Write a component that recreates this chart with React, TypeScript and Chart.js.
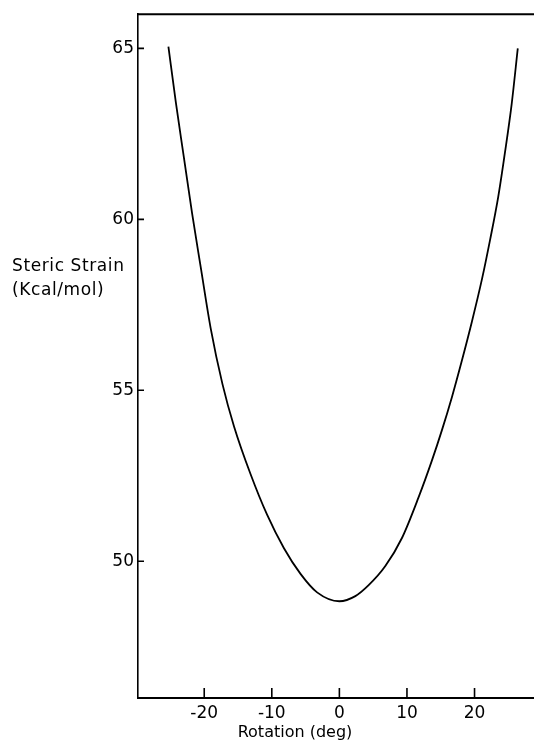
import React, { useEffect, useRef } from "react";
import { Chart, registerables } from "chart.js";

Chart.register(...registerables);

// Rotation angle (deg) and steric strain (kcal/mol)
const rotationDeg = [-25.3, -24.2, -23.0, -21.8, -20.5, -19.05, -17.3, -15.6, -13.15, -10.7, -8.2, -5.75, -3.3, 0, 2.36, 4.33, 6.8, 9.26, 11.7, 13.7, 15.2, 16.65, 18.1, 19.6, 21.1, 22.3, 23.5, 24.5, 25.5, 26.4];
const strainKcal = [65.05, 63.42, 61.8, 60.18, 58.58, 56.82, 55.18, 53.95, 52.55, 51.36, 50.38, 49.63, 49.09, 48.83, 48.98, 49.3, 49.86, 50.68, 51.86, 52.95, 53.85, 54.8, 55.85, 57.0, 58.25, 59.4, 60.65, 61.95, 63.38, 65.0];

const xTickValues = [-20, -10, 0, 10, 20];
const yTickValues = [50, 55, 60, 65];
const xRange = [-29.8, 28.8];
const yRange = [46, 66];

const xTitle = "Rotation (deg)";
const yTitleLines = ["Steric Strain", "(Kcal/mol)"];

const FONT = '"DejaVu Sans", "Liberation Sans", sans-serif';

const framePlugin = {
  id: "frameAndTitles",
  afterDraw(chart: any) {
    const { ctx, chartArea, scales } = chart;
    ctx.save();
    ctx.strokeStyle = "#000";
    ctx.lineCap = "butt";
    // top frame line
    ctx.lineWidth = 2;
    ctx.beginPath();
    ctx.moveTo(chartArea.left - 1, chartArea.top);
    ctx.lineTo(chartArea.right, chartArea.top);
    ctx.stroke();
    // inward tick marks
    ctx.lineWidth = 1.6;
    ctx.beginPath();
    for (const v of yTickValues) {
      const y = scales.y.getPixelForValue(v);
      ctx.moveTo(chartArea.left, y);
      ctx.lineTo(chartArea.left + 6, y);
    }
    for (const v of xTickValues) {
      const x = scales.x.getPixelForValue(v);
      ctx.moveTo(x, chartArea.bottom);
      ctx.lineTo(x, chartArea.bottom - 10);
    }
    ctx.stroke();
    // axis titles
    ctx.fillStyle = "#000";
    ctx.textBaseline = "middle";
    ctx.textAlign = "center";
    ctx.font = `16px ${FONT}`;
    (ctx as any).letterSpacing = "0px";
    ctx.fillText(xTitle, chartArea.left + 157, chartArea.bottom + 35);
    ctx.textAlign = "left";
    ctx.font = `17px ${FONT}`;
    (ctx as any).letterSpacing = "0.6px";
    ctx.fillText(yTitleLines[0], 12, chartArea.top + 252);
    ctx.fillText(yTitleLines[1], 12, chartArea.top + 276);
    (ctx as any).letterSpacing = "0px";
    ctx.restore();
  },
};

export default function App() {
  const canvasRef = useRef<HTMLCanvasElement | null>(null);

  useEffect(() => {
    if (!canvasRef.current) return;
    const points = rotationDeg.map((x, i) => ({ x, y: strainKcal[i] }));
    const chart = new Chart(canvasRef.current, {
      type: "line",
      data: {
        datasets: [
          {
            data: points,
            borderColor: "#000",
            borderWidth: 1.8,
            pointRadius: 0,
            fill: false,
            cubicInterpolationMode: "monotone",
          },
        ],
      },
      options: {
        animation: false,
        responsive: true,
        maintainAspectRatio: false,
        layout: { padding: { top: 13, right: 0, left: 0, bottom: 0 } },
        plugins: { legend: { display: false }, tooltip: { enabled: false } },
        scales: {
          x: {
            type: "linear",
            min: xRange[0],
            max: xRange[1],
            afterBuildTicks: (scale: any) => {
              scale.ticks = xTickValues.map((v) => ({ value: v }));
            },
            afterFit: (scale: any) => {
              scale.height = 42;
            },
            grid: { display: false, drawTicks: false },
            border: { display: true, color: "#000", width: 2 },
            ticks: {
              color: "#000",
              font: { family: FONT, size: 17 },
              padding: 5,
              maxRotation: 0,
              autoSkip: false,
              callback: (v: any) => String(v),
            },
          },
          y: {
            type: "linear",
            min: yRange[0],
            max: yRange[1],
            afterBuildTicks: (scale: any) => {
              scale.ticks = yTickValues.map((v) => ({ value: v }));
            },
            afterFit: (scale: any) => {
              scale.width = 138;
            },
            grid: { display: false, drawTicks: false },
            border: { display: true, color: "#000", width: 1.6 },
            ticks: {
              color: "#000",
              font: { family: FONT, size: 17 },
              padding: 4,
              autoSkip: false,
              callback: (v: any) => String(v),
            },
          },
        },
      },
      plugins: [framePlugin],
    });
    return () => chart.destroy();
  }, []);

  return (
    <div style={{ position: "absolute", left: 0, top: 0, width: 534, height: 740, background: "#fff" }}>
      <canvas ref={canvasRef} />
    </div>
  );
}
